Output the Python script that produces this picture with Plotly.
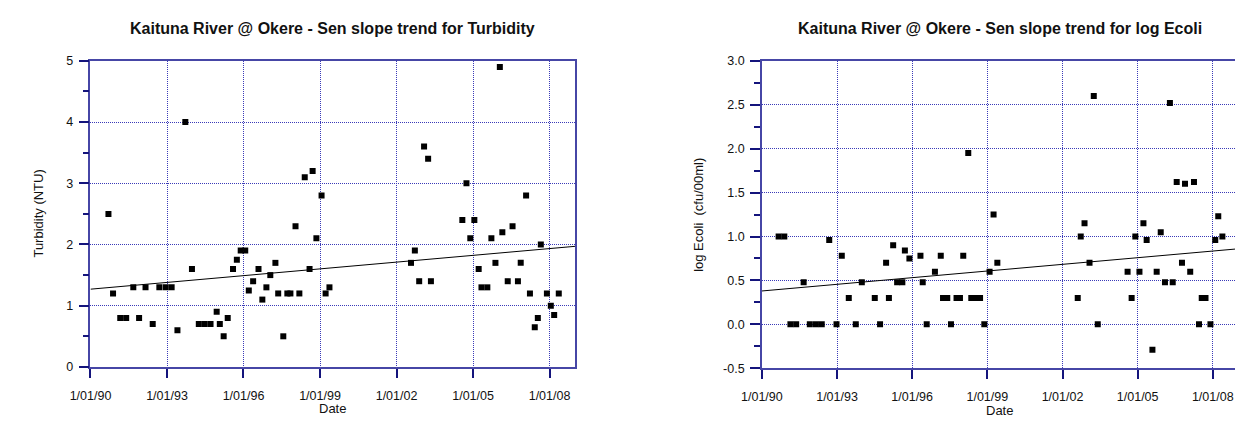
import plotly.graph_objects as go

# ---- Turbidity samples ----
turb_dates = [
    "1990-09-15", "1990-11-20", "1991-03-03", "1991-05-27", "1991-09-06", "1991-11-28",
    "1992-02-28", "1992-06-10", "1992-09-13", "1992-12-13", "1993-03-08", "1993-05-30",
    "1993-09-20", "1993-12-24", "1994-04-01", "1994-06-24", "1994-09-16", "1994-12-13",
    "1995-01-27", "1995-03-23", "1995-05-20", "1995-08-04", "1995-09-28", "1995-11-22",
    "1996-01-26", "1996-03-17", "1996-05-18", "1996-08-03", "1996-09-27", "1996-11-24",
    "1997-01-19", "1997-04-02", "1997-05-12", "1997-07-24", "1997-09-20", "1997-11-03",
    "1998-01-15", "1998-03-11", "1998-05-27", "1998-08-04", "1998-09-17", "1998-11-10",
    "1999-01-23", "1999-03-22", "1999-05-16", "2002-07-27", "2002-09-20", "2002-11-21",
    "2003-01-30", "2003-03-29", "2003-05-08", "2004-07-31", "2004-09-28", "2004-11-22",
    "2005-01-19", "2005-03-22", "2005-05-01", "2005-07-24", "2005-09-20", "2005-11-17",
    "2006-01-19", "2006-02-24", "2006-05-12", "2006-07-20", "2006-10-05", "2006-11-14",
    "2007-01-30", "2007-03-26", "2007-06-03", "2007-07-17", "2007-08-29", "2007-11-24",
    "2008-01-19", "2008-03-07", "2008-05-12",
]
turb_values = [
    2.5, 1.2, 0.8, 0.8, 1.3, 0.8, 1.3, 0.7, 1.3, 1.3,
    1.3, 0.6, 4.0, 1.6, 0.7, 0.7, 0.7, 0.9, 0.7, 0.5,
    0.8, 1.6, 1.75, 1.9, 1.9, 1.25, 1.4, 1.6, 1.1, 1.3,
    1.5, 1.7, 1.2, 0.5, 1.2, 1.2, 2.3, 1.2, 3.1, 1.6,
    3.2, 2.1, 2.8, 1.2, 1.3, 1.7, 1.9, 1.4, 3.6, 3.4,
    1.4, 2.4, 3.0, 2.1, 2.4, 1.6, 1.3, 1.3, 2.1, 1.7,
    4.9, 2.2, 1.4, 2.3, 1.4, 1.7, 2.8, 1.2, 0.65, 0.8,
    2.0, 1.2, 1.0, 0.85, 1.2,
]
turb_trend_dates = ["1990-01-01", "2009-01-01"]
turb_trend_values = [1.27, 1.97]

# ---- log E. coli samples ----
ecoli_dates = [
    "1990-09-02", "1990-11-24", "1991-02-21", "1991-05-16", "1991-09-02", "1991-12-01",
    "1992-02-28", "1992-05-23", "1992-09-09", "1992-12-24", "1993-03-11", "1993-06-21",
    "1993-10-01", "1993-12-28", "1994-07-05", "1994-09-20", "1994-12-17", "1995-01-27",
    "1995-03-30", "1995-05-27", "1995-08-11", "1995-09-17", "1995-11-22", "1996-05-01",
    "1996-06-03", "1996-07-31", "1996-11-28", "1997-02-21", "1997-03-26", "1997-05-27",
    "1997-07-20", "1997-10-09", "1997-11-28", "1998-01-15", "1998-03-29", "1998-05-12",
    "1998-07-13", "1998-09-17", "1998-11-18", "1999-02-03", "1999-04-02", "1999-05-27",
    "2002-08-11", "2002-09-24", "2002-11-18", "2003-01-30", "2003-04-02", "2003-05-30",
    "2004-08-07", "2004-10-05", "2004-11-28", "2005-01-27", "2005-03-26", "2005-05-12",
    "2005-08-04", "2005-10-05", "2005-12-03", "2006-02-03", "2006-04-16", "2006-05-27",
    "2006-07-24", "2006-10-09", "2006-11-22", "2007-02-06", "2007-04-02", "2007-06-14",
    "2007-07-24", "2007-09-17", "2007-11-28", "2008-02-06", "2008-03-21", "2008-05-20",
]
ecoli_values = [
    1.0, 1.0, 0.0, 0.0, 0.48, 0.0, 0.0, 0.0, 0.96, 0.0,
    0.78, 0.30, 0.0, 0.48, 0.30, 0.0, 0.70, 0.30, 0.90, 0.48,
    0.48, 0.84, 0.75, 0.78, 0.48, 0.0, 0.60, 0.78, 0.30, 0.30,
    0.0, 0.30, 0.30, 0.78, 1.95, 0.30, 0.30, 0.30, 0.0, 0.60,
    1.25, 0.70, 0.30, 1.0, 1.15, 0.70, 2.6, 0.0, 0.60, 0.30,
    1.0, 0.60, 1.15, 0.96, -0.29, 0.60, 1.05, 0.48, 2.52, 0.48,
    1.62, 0.70, 1.60, 0.60, 1.62, 0.0, 0.30, 0.30, 0.0, 0.96,
    1.23, 1.0,
]
ecoli_trend_dates = ["1990-01-01", "2009-01-01"]
ecoli_trend_values = [0.38, 0.86]

# ---- shared axis labelling ----
date_tickvals = ["1990-01-01", "1993-01-01", "1996-01-01", "1999-01-01",
                 "2002-01-01", "2005-01-01", "2008-01-01"]
date_ticktext = ["1/01/90", "1/01/93", "1/01/96", "1/01/99",
                 "1/01/02", "1/01/05", "1/01/08"]
turb_ticks = [0, 1, 2, 3, 4, 5]
turb_ticktext = ["0", "1", "2", "3", "4", "5"]
ecoli_ticks = [-0.5, 0.0, 0.5, 1.0, 1.5, 2.0, 2.5, 3.0]
ecoli_ticktext = ["-0.5", "0.0", "0.5", "1.0", "1.5", "2.0", "2.5", "3.0"]

W, H = 1235, 421
FONT = "Liberation Sans, Arial, sans-serif"
AXIS_LINE = "#4646a6"
TICK_COL = "#14147c"
GRID_COL = "#3a3ab8"
GRID_DASH = "1px,1px"

fig = go.Figure()

marker = dict(symbol="square", size=6, color="black")
fig.add_trace(go.Scatter(x=turb_dates, y=turb_values, mode="markers",
                         marker=marker, xaxis="x", yaxis="y", showlegend=False))
fig.add_trace(go.Scatter(x=turb_trend_dates, y=turb_trend_values, mode="lines",
                         line=dict(color="black", width=1), xaxis="x", yaxis="y",
                         showlegend=False))
fig.add_trace(go.Scatter(x=ecoli_dates, y=ecoli_values, mode="markers",
                         marker=marker, xaxis="x2", yaxis="y2", showlegend=False))
fig.add_trace(go.Scatter(x=ecoli_trend_dates, y=ecoli_trend_values, mode="lines",
                         line=dict(color="black", width=1), xaxis="x2", yaxis="y2",
                         showlegend=False))


def xaxis_style(domain, rng, anchor):
    return dict(
        type="date", domain=domain, range=rng, anchor=anchor,
        tickvals=date_tickvals, ticktext=date_ticktext,
        ticks="outside", ticklen=9, tickwidth=1.5, tickcolor=TICK_COL,
        showline=True, linecolor=AXIS_LINE, linewidth=1.5, mirror=True,
        showgrid=True, gridcolor=GRID_COL, griddash=GRID_DASH, gridwidth=1,
        zeroline=False, tickfont=dict(family=FONT, size=12.5, color="#111"),
        ticklabelstandoff=7,
    )


def yaxis_style(domain, rng, anchor, vals, text, minor_step, mirror):
    return dict(
        domain=domain, range=rng, anchor=anchor,
        tickvals=vals, ticktext=text,
        ticks="outside", ticklen=10, tickwidth=1.5, tickcolor=TICK_COL,
        minor=dict(dtick=minor_step, ticks="outside", ticklen=6, tickwidth=1.5,
                   tickcolor=TICK_COL, showgrid=False),
        showline=True, linecolor=AXIS_LINE, linewidth=1.5, mirror=mirror,
        showgrid=True, gridcolor=GRID_COL, griddash=GRID_DASH, gridwidth=1,
        zeroline=False, tickfont=dict(family=FONT, size=12.5, color="#111"),
        ticklabelstandoff=3,
    )


x1 = [70.7 / W, 563.7 / W]
y1 = [(H - 372.3) / H, (H - 55.7) / H]
x2 = [753.7 / W, 1.0]
y2 = [(H - 373.7) / H, (H - 55.7) / H]

fig.update_layout(
    width=W, height=H,
    margin=dict(l=0, r=0, t=0, b=0),
    paper_bgcolor="white", plot_bgcolor="white",
    font=dict(family=FONT, color="#111"),
    xaxis=xaxis_style(x1, ["1990-01-01", "2009-01-01"], "y"),
    yaxis=yaxis_style(y1, [0, 5], "x", turb_ticks, turb_ticktext, 0.5, True),
    xaxis2=xaxis_style(x2, ["1990-01-01", "2008-11-20"], "y2"),
    yaxis2=yaxis_style(y2, [-0.5, 3.0], "x2", ecoli_ticks, ecoli_ticktext, 0.25, False),
)
fig.layout.yaxis2.minor.tick0 = -0.5

annotations = [
    dict(text="<b>Kaituna River @ Okere - Sen slope trend for Turbidity</b>",
         x=(x1[0] + x1[1]) / 2, y=1 - 22 / H, font=dict(size=16)),
    dict(text="<b>Kaituna River @ Okere - Sen slope trend for log Ecoli</b>",
         x=(753.7 + 1237.8) / 2 / W, y=1 - 22 / H, font=dict(size=16)),
    dict(text="Turbidity (NTU)", x=18 / W, y=1 - 214 / H, textangle=-90,
         font=dict(size=13)),
    dict(text="log Ecoli  (cfu/00ml)", x=689 / W, y=1 - 214.7 / H, textangle=-90,
         font=dict(size=13)),
    dict(text="Date", x=(x1[0] + x1[1]) / 2, y=1 - 415 / H, font=dict(size=13)),
    dict(text="Date", x=(753.7 + 1237.8) / 2 / W, y=1 - 417 / H, font=dict(size=13)),
]
for a in annotations:
    a.update(xref="paper", yref="paper", showarrow=False,
             xanchor="center", yanchor="middle")
    a["font"].update(family=FONT, color="#111")
fig.update_layout(annotations=annotations)

fig.write_html("out.html")
